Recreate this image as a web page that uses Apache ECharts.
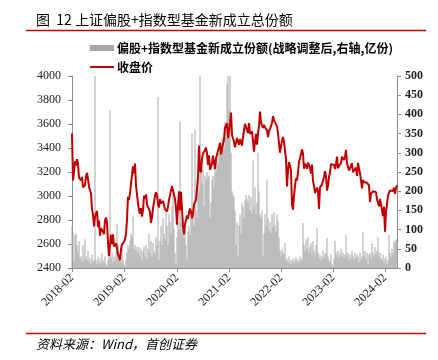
<!DOCTYPE html>
<html><head><meta charset="utf-8">
<script src="https://cdn.jsdelivr.net/npm/echarts@6/dist/echarts.min.js"></script>
<style>html,body{margin:0;padding:0;background:#fff}#c{width:438px;height:360px}</style>
</head><body><div id="c"></div>
<script>
// Weekly closing price of the SSE Composite (left axis)
const closePrice = [
3520,3130,3199,3289,3254,3307,3269,3153,3168,3131,
3159,3071,3082,3091,3163,3193,3141,3075,3067,3021,
2889,2847,2747,2831,2829,2874,2740,2795,2669,2730,
2725,2703,2682,2797,2821,2780,2606,2500,2598,2676,
2599,2680,2580,2588,2605,2594,2516,2494,2465,2554,
2596,2601,2618,2640,2682,2804,2994,2969,3022,3104,
3091,3247,3189,3270,3086,3078,2939,2882,2853,2899,
2828,2882,3001,2979,3012,2931,2924,2945,2868,2775,
2824,2898,2886,2999,3031,3006,2932,2905,2974,2938,
2954,2958,2964,2891,2885,2871,2912,2967,3005,3005,
3083,3092,3075,2976,2900,2760,2917,3039,2880,3034,
2887,2745,2680,2764,2797,2839,2809,2860,2895,2868,
2814,2852,2931,2920,2967,2980,3152,3420,3214,3197,
3310,3354,3360,3381,3404,3355,3260,3338,3219,3218,
3272,3336,3278,3225,3312,3310,3377,3408,3444,3347,
3395,3397,3473,3570,3566,3606,3483,3496,3603,3696,
3509,3502,3453,3405,3418,3484,3451,3427,3474,3447,
3419,3490,3487,3601,3592,3590,3525,3607,3518,3524,
3539,3550,3370,3458,3517,3427,3522,3581,3703,3613,
3613,3568,3592,3572,3582,3547,3491,3539,3560,3564,
3607,3666,3632,3618,3640,3580,3521,3522,3361,3361,
3463,3491,3452,3448,3310,3080,3212,3282,3252,3211,
2930,2886,3002,3084,3147,3130,3195,3285,3317,3350,
3388,3356,3228,3270,3253,3227,3277,3258,3236,3186,
3262,3126,3088,3024,3024,3071,3038,2893,3071,3087,
3097,3101,3156,3206,3167,3045,3089,3158,3195,3265,
3265,3263,3261,3224,3267,3328,3231,3251,3266,3273,
3327,3338,3301,3323,3385,3272,3283,3213,3231,3231,
3273,3198,3202,3197,3237,3168,3276,3288,3189,3131,
3064,3133,3116,3117,3132,3110,3110,3088,2950,3017,
3030,3039,3054,3041,3032,2970,2942,2914,2975,2929,
2882,2832,2910,2702,2866,2866,3004,3027,3046,3054,
3048,3041,3069,3019,3065,3088
];
// New fund shares (right axis, 亿份)
const newShares = [
110,95,20,85,90,60,40,70,25,30,
15,60,20,75,30,20,45,15,25,10,
35,15,20,500,20,10,30,15,25,10,
40,20,15,30,10,5,20,35,410,25,
40,15,30,20,45,115,60,30,25,15,
50,20,10,5,20,40,60,50,70,90,
80,135,50,60,45,55,40,55,30,50,
20,45,55,30,60,25,50,90,40,70,
30,65,45,35,80,60,445,20,70,110,
60,130,90,75,150,110,60,140,120,90,
160,200,100,40,10,80,120,100,380,120,
90,130,80,100,60,20,95,110,85,130,
350,140,110,360,150,130,230,200,500,250,
220,255,160,240,230,250,235,240,130,170,
230,240,210,260,250,280,270,300,320,300,
340,330,310,380,340,480,500,410,500,300,
200,190,185,150,60,120,30,110,140,90,
170,160,130,175,190,180,170,190,150,185,
140,280,160,210,140,170,300,200,140,130,
150,30,90,140,110,230,130,100,120,90,
140,105,145,110,95,140,120,80,45,30,
50,40,35,65,20,25,15,30,10,20,
15,25,12,20,28,18,22,15,30,20,
25,117,60,45,75,50,80,40,55,65,
35,70,45,30,60,104,40,25,35,20,
30,45,25,35,40,78,30,20,15,35,
10,5,25,70,40,30,45,25,35,50,
30,40,25,35,85,30,40,20,35,25,
45,30,20,40,25,35,30,15,40,20,
30,94,30,45,25,40,10,35,40,25,
63,40,30,55,35,45,80,30,40,25,
20,35,15,25,30,10,20,86,40,30,
50,35,70,65,75,72
];
const tickLabels = ['2018-02','2019-02','2020-02','2021-02','2022-02','2023-02','2024-02'];
const startDate = '2018-02-02';
const barName = '偏股+指数型基金新成立份额(战略调整后,右轴,亿份)';
const lineName = '收盘价';
const titleText = '图  12 上证偏股+指数型基金新成立总份额';
const sourceText = '资料来源：Wind，首创证券';

const categories = [];
const d0 = new Date(startDate + 'T00:00:00Z');
for (let i = 0; i < closePrice.length; i++) {
  categories.push(new Date(d0.getTime() + i * 7 * 86400000).toISOString().slice(0, 10));
}
const tickIdx = new Set(tickLabels.map(t => categories.findIndex(c => c.startsWith(t))));
const showTick = (i) => tickIdx.has(i);

const serif = '"Liberation Serif","Times New Roman",serif';
const cjk = '"Noto Sans CJK SC",sans-serif';
const axisGray = '#8c8c8c';

const chart = echarts.init(document.getElementById('c'), null, {renderer: 'canvas'});
chart.setOption({
  animation: false,
  backgroundColor: '#fff',
  title: {
    text: titleText, left: 36, top: 13, padding: 0,
    textStyle: {fontFamily: cjk, fontSize: 14, fontWeight: 'normal', color: '#000'}
  },
  graphic: [
    {type: 'line', shape: {x1: 26, y1: 30.5, x2: 426, y2: 30.5}, style: {stroke: '#c00000', lineWidth: 1.5}},
    {type: 'line', shape: {x1: 26, y1: 333.5, x2: 426, y2: 333.5}, style: {stroke: '#c00000', lineWidth: 1.5}},
    {type: 'text', left: 36, top: 338, style: {text: sourceText, font: 'italic 13px "Noto Sans CJK SC", sans-serif', fill: '#000'}}
  ],
  legend: [
    {data: [barName], left: 90, top: 42, padding: 0, itemWidth: 24, itemHeight: 6, icon: 'rect',
     textStyle: {fontFamily: cjk, fontSize: 12, fontWeight: 'bold', color: '#000', padding: [0,0,0,-2]}},
    {data: [lineName], left: 90, top: 61, padding: 0, itemWidth: 24, itemHeight: 2, icon: 'rect',
     textStyle: {fontFamily: cjk, fontSize: 12, fontWeight: 'bold', color: '#000', padding: [0,0,0,-2]}}
  ],
  grid: {left: 72, right: 41, top: 76, bottom: 92, containLabel: false},
  xAxis: {
    type: 'category', data: categories, boundaryGap: false,
    axisLine: {lineStyle: {color: axisGray}},
    axisTick: {interval: (i) => showTick(i), length: 4, lineStyle: {color: axisGray}},
    axisLabel: {interval: (i) => showTick(i), rotate: 45, formatter: v => v.slice(0, 7),
      fontFamily: serif, fontSize: 12, color: '#222', margin: 8},
    splitLine: {show: false}
  },
  yAxis: [
    {type: 'value', min: 2400, max: 4000, interval: 200, position: 'left',
     axisLine: {show: true, lineStyle: {color: axisGray}},
     axisTick: {show: true, length: 4, lineStyle: {color: axisGray}},
     splitLine: {show: false},
     axisLabel: {fontFamily: serif, fontSize: 12, color: '#222', margin: 11, formatter: v => String(v)}},
    {type: 'value', min: 0, max: 500, interval: 50, position: 'right',
     axisLine: {show: true, lineStyle: {color: axisGray}},
     axisTick: {show: true, length: 4, lineStyle: {color: axisGray}},
     splitLine: {show: false},
     axisLabel: {fontFamily: serif, fontSize: 12, fontWeight: 'bold', color: '#222', margin: 8, formatter: v => String(v)}}
  ],
  series: [
    {name: barName, type: 'bar', yAxisIndex: 1, data: newShares, barWidth: '100%',
     itemStyle: {color: '#a6a6a6'}, clip: true, z: 1},
    {name: lineName, type: 'line', yAxisIndex: 0, data: closePrice, symbol: 'none', showSymbol: false,
     lineStyle: {color: '#c00000', width: 2}, itemStyle: {color: '#c00000'}, z: 3}
  ]
});
</script>
</body></html>
